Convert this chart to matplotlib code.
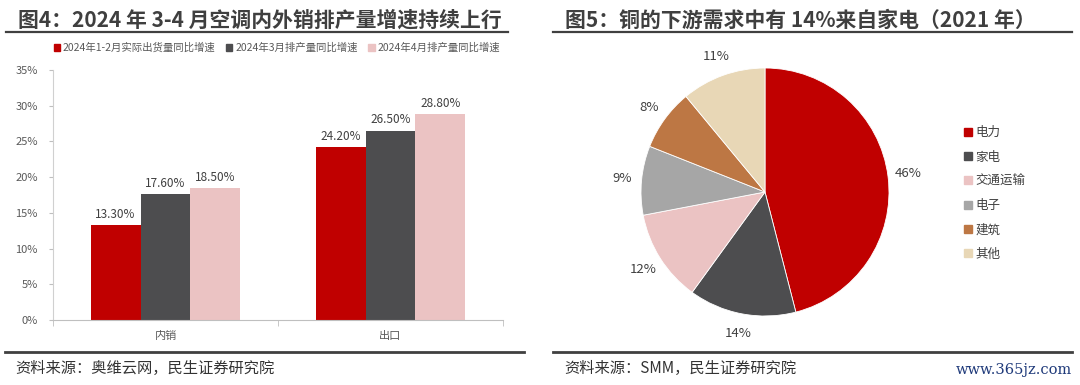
import matplotlib
matplotlib.use("Agg")
import matplotlib.pyplot as plt
from matplotlib.patches import Patch
from matplotlib.lines import Line2D
import numpy as np

plt.rcParams['font.family'] = ['Noto Sans CJK SC', 'DejaVu Sans']

## ---- data: figure 4 (bars)
categories = ['内销', '出口']
series_names = ['2024年1-2月实际出货量同比增速', '2024年3月排产量同比增速', '2024年4月排产量同比增速']
series_vals = [
    [13.3, 24.2],
    [17.6, 26.5],
    [18.5, 28.8],
]
y_ticks = [0, 5, 10, 15, 20, 25, 30, 35]

## ---- data: figure 5 (pie)
pie_labels = ['电力', '家电', '交通运输', '电子', '建筑', '其他']
pie_vals = [46, 14, 12, 9, 8, 11]

bar_colors = ['#C00000', '#4D4D4F', '#EBC3C3']
pie_colors = ['#C00000', '#4D4D4F', '#EBC3C3', '#A6A6A6', '#BD7744', '#E8D7B6']

W, H = 1080, 385
fig = plt.figure(figsize=(W / 100, H / 100), dpi=100)
fig.patch.set_facecolor('white')

def fx(px):
    return px / W

def fy(py):
    return 1 - py / H

## ---- titles, rules and sources
fig.text(fx(18), fy(20), '图4：2024 年 3-4 月空调内外销排产量增速持续上行',
         fontsize=15, fontweight='bold', color='#3F3F3F', va='center', ha='left')
fig.text(fx(565), fy(20), '图5：铜的下游需求中有 14%来自家电（2021 年）',
         fontsize=15, fontweight='bold', color='#3F3F3F', va='center', ha='left')

for x0, x1 in [(6, 508), (553, 1072)]:
    fig.add_artist(Line2D([fx(x0), fx(x1)], [fy(32), fy(32)], color='#404040', lw=1.6))
for x0, x1 in [(5, 524), (553, 1072)]:
    fig.add_artist(Line2D([fx(x0), fx(x1)], [fy(352), fy(352)], color='#404040', lw=2.0))

fig.text(fx(15), fy(368), '资料来源：奥维云网，民生证券研究院', fontsize=11, color='#333333', va='center')
fig.text(fx(564), fy(368), '资料来源：SMM，民生证券研究院', fontsize=11, color='#333333', va='center')
fig.text(fx(1072), fy(370), 'www.365jz.com', fontsize=10.5, color='#1F3A7A', va='center', ha='right',
         family='DejaVu Serif')

## ---- bar chart
ax = fig.add_axes([fx(53), fy(320), fx(450), 250 / H])
x = np.arange(len(categories))
width = 0.222
for i, (name, vals) in enumerate(zip(series_names, series_vals)):
    pos = x + (i - 1) * width
    ax.bar(pos, [v / 100 for v in vals], width, color=bar_colors[i], label=name)
    for p, v in zip(pos, vals):
        ax.text(p, v / 100 + 0.006, '%.2f%%' % v, ha='center', va='bottom', fontsize=8.5, color='#404040')

ax.set_xlim(-0.5, 1.5)
ax.set_ylim(0, 0.35)
ax.set_yticks([t / 100 for t in y_ticks])
ax.set_yticklabels(['%d%%' % t for t in y_ticks])
ax.set_xticks(x)
ax.set_xticklabels(categories)
ax.set_xticks([-0.5, 0.5, 1.5], minor=True)
ax.tick_params(axis='x', which='major', length=0, pad=8, labelsize=8, labelcolor='#595959')
ax.tick_params(axis='x', which='minor', length=4, color='#BFBFBF', direction='out')
ax.tick_params(axis='y', length=3, color='#BFBFBF', pad=8, labelsize=8, labelcolor='#595959')
for s in ['top', 'right']:
    ax.spines[s].set_visible(False)
ax.spines['left'].set_color('#D0D0D0')
ax.spines['bottom'].set_color('#BFBFBF')

handles = [Patch(color=c) for c in bar_colors]
fig.legend(handles, series_names, loc='center', bbox_to_anchor=(fx(277), fy(48)), ncol=3,
           frameon=False, fontsize=7.5, handlelength=0.6, handleheight=0.6, handletextpad=0.3,
           columnspacing=1.0, labelcolor='#595959')

## ---- pie chart
r = 124
axp = fig.add_axes([fx(765 - r), fy(192 + r), fx(2 * r), 2 * r / H])
wedges, texts = axp.pie(pie_vals, colors=pie_colors, startangle=90, counterclock=False,
                        labels=['%d%%' % v for v in pie_vals], labeldistance=1.16,
                        wedgeprops=dict(edgecolor='white', linewidth=0.6),
                        textprops=dict(fontsize=9.5, color='#404040'))
for t in texts:
    t.set_ha('center')
    t.set_va('center')
axp.set_xlim(-1, 1)
axp.set_ylim(-1, 1)

pie_handles = [Patch(color=c) for c in pie_colors]
fig.legend(pie_handles, pie_labels, loc='upper left', bbox_to_anchor=(fx(953), fy(115)),
           frameon=False, fontsize=9, handlelength=0.6, handleheight=0.6, handletextpad=0.3,
           labelspacing=0.9, labelcolor='#404040')

fig.savefig('out.png', dpi=100)
